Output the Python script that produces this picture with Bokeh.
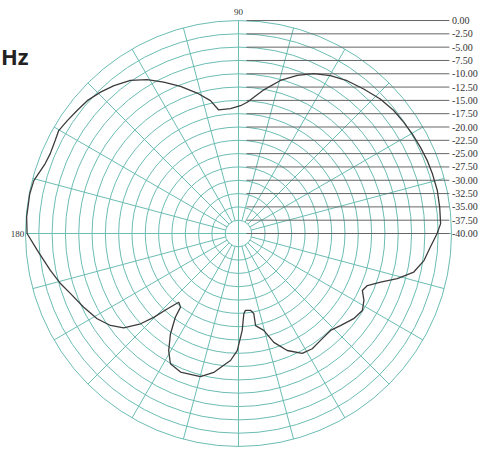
import numpy as np
from bokeh.plotting import figure
from bokeh.models import Range1d
from bokeh.core.properties import value
from bokeh.embed import file_html
from bokeh.resources import INLINE

# ---- data ----
ring_levels = [0.0, -2.5, -5.0, -7.5, -10.0, -12.5, -15.0, -17.5, -20.0,
               -22.5, -25.0, -27.5, -30.0, -32.5, -35.0, -37.5, -40.0]
ring_labels = ["0.00", "-2.50", "-5.00", "-7.50", "-10.00", "-12.50", "-15.00",
               "-17.50", "-20.00", "-22.50", "-25.00", "-27.50", "-30.00",
               "-32.50", "-35.00", "-37.50", "-40.00"]
spoke_angles = list(range(0, 360, 15))
angle_labels = ["90", "180"]

pattern_angle = [0.0, 2.8, 7.4, 12.2, 17.1, 21.2, 25.4, 29.9, 34.0, 38.4, 43.5,
                 49.1, 54.6, 59.8, 64.8, 69.6, 74.7, 80.0, 86.2, 89.1, 93.7,
                 99.1, 101.9, 106.4, 111.5, 116.3, 120.7, 125.2, 130.1, 134.3,
                 138.7, 142.7, 146.6, 150.2, 153.1, 157.0, 160.1, 162.4, 165.5,
                 169.3, 175.6, 180.0, 184.8, 191.1, 195.8, 199.7, 205.5, 211.1,
                 215.7, 219.4, 222.7, 224.7, 226.6, 229.0, 231.8, 233.0, 235.9,
                 239.2, 242.4, 247.3, 255.1, 259.9, 263.6, 266.4, 269.4, 272.2,
                 273.8, 275.2, 278.9, 280.8, 280.5, 284.6, 288.0, 292.6, 298.0,
                 302.6, 307.5, 313.5, 317.9, 323.5, 328.1, 331.9, 335.3, 338.0,
                 341.1, 344.1, 347.6, 351.7, 355.9, 360.0]
pattern_db = [-2.7, -2.0, -1.9, -1.8, -1.9, -2.0, -2.2, -2.4, -2.6, -2.8, -3.3,
              -4.1, -4.8, -5.7, -6.8, -8.3, -10.2, -12.6, -15.3, -16.0, -16.5,
              -16.5, -14.5, -12.5, -10.3, -8.3, -6.4, -4.8, -3.7, -2.9,
              -2.2, -1.9, -1.5, -1.1, -1.4, -1.6, -1.4, -1.0, -0.3,
              -0.1, -0.1, -0.3, -2.1, -4.0, -5.3, -6.5, -7.8, -9.0,
              -10.4, -12.1, -15.0, -17.6, -20.5, -22.9, -22.4, -20.3, -17.2,
              -14.4, -12.4, -11.8, -12.2, -13.5, -15.1, -16.1, -18.0, -21.8,
              -24.9, -25.5, -25.4, -24.7, -22.4, -21.2, -18.5, -16.2, -14.5,
              -14.3, -14.7, -14.9, -14.2, -13.1, -12.6, -13.3, -14.4, -13.9,
              -11.8, -9.0, -6.3, -4.8, -3.9, -2.7]

MIN_DB = -40.0
GRID = "#6cbdb3"
X0 = -44.69

p = figure(width=482, height=452,
           x_range=Range1d(X0, 45.82), y_range=Range1d(-41.13, 43.76),
           output_backend="svg", toolbar_location=None, min_border=0,
           x_axis_location=None, y_axis_location=None)
p.grid.visible = False
p.outline_line_color = None
p.background_fill_color = "white"

radii = [lv - MIN_DB for lv in ring_levels]
Rmax = max(radii)

# rings
ring_r = [r for r in radii if r > 0]
p.circle(x=[0] * len(ring_r), y=[0] * len(ring_r), radius=ring_r,
         fill_color=None, line_color=GRID, line_width=1)

# spokes
r_in = min(ring_r)
xs, ys = [], []
for a in spoke_angles:
    t = np.deg2rad(a)
    if a % 90 == 0:
        continue
    xs.append([r_in * np.cos(t), Rmax * np.cos(t)])
    ys.append([r_in * np.sin(t), Rmax * np.sin(t)])
# axes through the centre
xs += [[-Rmax, Rmax], [0, 0]]
ys += [[0, 0], [-Rmax, Rmax]]
p.multi_line(xs=xs, ys=ys, line_color=GRID, line_width=1)

# level lines to the right
lx0, lx1 = 1.5, 39.6
p.multi_line(xs=[[lx0, lx1] for _ in radii], ys=[[r, r] for r in radii],
             line_color="#666666", line_width=1)
p.text(x=[40.1] * len(radii), y=radii, text=ring_labels,
       text_font=value("Liberation Serif"), text_font_size="10px",
       text_align="left", text_baseline="middle", text_color="#333333")

# angle labels
p.text(x=[0], y=[Rmax + 1.6], text=[angle_labels[0]],
       text_font=value("Liberation Serif"), text_font_size="9px",
       text_align="center", text_baseline="middle", text_color="#333333")
p.text(x=[-Rmax - 0.25], y=[0], text=[angle_labels[1]],
       text_font=value("Liberation Serif"), text_font_size="9px",
       text_align="right", text_baseline="middle", text_color="#333333")

# pattern
th = np.deg2rad(np.array(pattern_angle))
rr = np.array(pattern_db) - MIN_DB
p.line(x=rr * np.cos(th), y=rr * np.sin(th), line_color="#3c3c3c", line_width=1.3)

# title fragment
p.text(x=[X0 + 0.1], y=[33.4], text=["Hz"], text_font=value("Open Sans"),
       text_font_size="22px", text_font_style="bold", text_align="left",
       text_baseline="alphabetic", text_color="#222222")

open("out.html", "w").write(file_html(p, INLINE))
